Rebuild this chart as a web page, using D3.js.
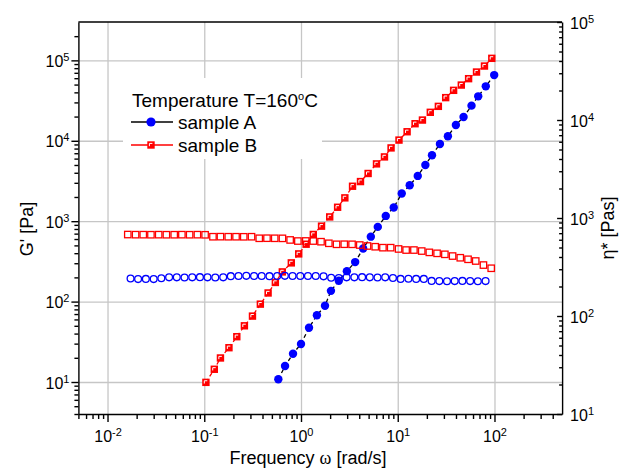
<!DOCTYPE html>
<html>
<head>
<meta charset="utf-8">
<script src="https://cdn.jsdelivr.net/npm/d3@7"></script>
<style>
    body { margin: 0; background: #fff; }
    svg { display: block; font-family: "Liberation Sans", Arial, sans-serif; }
</style>
</head>
<body>
<svg class="chart" width="631" height="469"></svg>
<script>
// storage modulus G' (filled symbols, left axis) and complex viscosity (open symbols, right axis)
var freqA = [0.583, 0.684, 0.827, 1.0, 1.21, 1.46, 1.77, 2.04, 2.46, 2.98, 3.63, 4.39, 5.27, 6.22, 7.52,
    9.09, 11.0, 13.3, 16.1, 19.3, 22.6, 27.3, 33.0, 39.9, 47.9, 57.9, 67.9, 81.3, 99.3];
var gA = [10.8, 15.8, 22.5, 29.7, 47.3, 67.5, 88.8, 136, 182, 239, 310, 458, 642, 849, 1163,
    1480, 2207, 2800, 3655, 5003, 6600, 9120, 11370, 15710, 19760, 27360, 35700, 47550, 65600];

var freqB = [0.104, 0.127, 0.147, 0.180, 0.217, 0.260, 0.315, 0.380, 0.457, 0.543, 0.641, 0.794, 0.947,
    1.13, 1.34, 1.63, 1.98, 2.39, 2.84, 3.41, 4.12, 4.94, 6.03, 7.29, 8.53, 10.3, 12.5, 15.1, 18.0,
    21.7, 26.3, 31.3, 37.8, 45.4, 54.0, 65.2, 78.8, 93.8];
var gB = [9.9, 14.4, 19.9, 26.7, 36.6, 50, 66, 93, 128, 173, 234, 303, 392, 517, 684, 867, 1130,
    1490, 1950, 2720, 3110, 3920, 5160, 6300, 8150, 10200, 12950, 16300, 18100, 22600, 26800,
    34400, 42400, 49300, 59200, 71600, 85000, 106000];

var freqEtaA = [0.0173, 0.0207, 0.0249, 0.0300, 0.0360, 0.0433, 0.0520, 0.0625, 0.0751, 0.0902, 0.108,
    0.130, 0.157, 0.188, 0.226, 0.272, 0.327, 0.392, 0.472, 0.567, 0.681, 0.818, 0.983, 1.18, 1.42,
    1.71, 2.05, 2.46, 2.96, 3.56, 4.28, 5.14, 6.18, 7.42, 8.92, 10.7, 12.9, 15.5, 18.6, 22.4, 26.9,
    32.3, 38.8, 46.6, 56.0, 67.3, 80.9];
var etaA = [241, 238, 239, 238, 243, 248, 248, 247, 248, 249, 248, 247, 248, 255, 256, 257, 256, 256,
    255, 256, 257, 256, 256, 256, 256, 254, 246, 244, 248, 248, 249, 248, 247, 248, 244, 239, 240,
    239, 239, 228, 227, 226, 227, 228, 227, 226, 227];

var freqEtaB = [0.0162, 0.0195, 0.0234, 0.0281, 0.0338, 0.0406, 0.0489, 0.0587, 0.0706, 0.0849, 0.102,
    0.123, 0.147, 0.177, 0.213, 0.256, 0.308, 0.370, 0.445, 0.535, 0.643, 0.772, 0.928, 1.12, 1.34,
    1.61, 1.94, 2.33, 2.80, 3.37, 4.05, 4.87, 5.85, 7.03, 8.45, 10.2, 12.2, 14.7, 17.7, 21.2, 25.5,
    30.7, 36.9, 44.3, 53.3, 64.0, 76.9, 92.5];
var etaB = [678, 676, 676, 675, 676, 675, 675, 676, 675, 676, 674, 644, 645, 644, 644, 643, 644, 621,
    622, 621, 620, 597, 582, 583, 582, 573, 552, 539, 540, 539, 530, 518, 509, 498, 498, 483, 471,
    471, 460, 446, 436, 426, 409, 393, 379, 364, 331, 307];

var xTicks = [0.01, 0.1, 1, 10, 100];
var leftTicks = [10, 100, 1000, 10000, 100000];
var rightTicks = [10, 100, 1000, 10000, 100000];
var legendTitle = 'Temperature T=160';
var legendLabels = ['sample A', 'sample B'];

(function () {
    var left = 78.4, right = 562.1, top = 22, bottom = 414;
    var font = '"Liberation Sans", Arial, sans-serif';
    var svg = d3.select('.chart');
    var noLabel = function () { return ''; };

    var x = d3.scaleLog().domain([0.005, 500]).range([left, right]);
    var yL = d3.scaleLog().domain([4, 3e5]).range([bottom, top]);
    var yR = d3.scaleLog().domain([10, 1e5]).range([bottom, top]);

    // 2..9 times each power of ten, inside the domain
    function minors(scale) {
        var d = scale.domain(), out = [];
        for (var e = Math.floor(Math.log10(d[0])); e <= Math.ceil(Math.log10(d[1])); e++)
            for (var k = 2; k <= 9; k++) {
                var v = k * Math.pow(10, e);
                if (v >= d[0] && v <= d[1] * 0.999) out.push(v);
            }
        return out;
    }

    // grid lines
    var grid = svg.append('g').attr('class', 'grid');
    grid.append('g').attr('transform', 'translate(0,' + bottom + ')')
        .call(d3.axisBottom(x).tickValues(xTicks).tickSize(-(bottom - top)).tickFormat(noLabel));
    grid.append('g').attr('transform', 'translate(' + left + ',0)')
        .call(d3.axisLeft(yL).tickValues(leftTicks).tickSize(-(right - left)).tickFormat(noLabel));
    grid.selectAll('.domain, text').remove();
    grid.selectAll('line').attr('stroke', '#c6c6c6').attr('stroke-width', 1.3);

    // legend background hides the grid
    svg.append('rect').attr('x', 123).attr('y', 78).attr('width', 199).attr('height', 81).attr('fill', '#fff');

    // dashed lines through the G' points
    function drawLine(fx, fy, color) {
        svg.append('path')
            .datum(d3.zip(fx, fy))
            .attr('fill', 'none')
            .attr('stroke', color)
            .attr('stroke-width', 1.3)
            .attr('stroke-dasharray', '4,3')
            .attr('d', d3.line().x(function (d) { return x(d[0]); }).y(function (d) { return yL(d[1]); }));
    }
    drawLine(freqB, gB, '#ff0000');
    drawLine(freqA, gA, '#000');

    // filled squares with the small white corner seen in the picture
    function filledSquares(g, data, px, py) {
        var s = g.selectAll(null).data(data).enter().append('g')
            .attr('transform', function (d) { return 'translate(' + px(d) + ',' + py(d) + ')'; });
        s.append('rect').attr('x', -3.7).attr('y', -3.7).attr('width', 7.4).attr('height', 7.4).attr('fill', '#ff0000');
        s.append('path').attr('d', 'M-1.6,1.2V-1.6H1.4').attr('fill', 'none').attr('stroke', '#fff').attr('stroke-width', 1);
    }
    filledSquares(svg.append('g'), d3.zip(freqB, gB),
        function (d) { return x(d[0]); }, function (d) { return yL(d[1]); });

    svg.append('g').selectAll('circle').data(d3.zip(freqA, gA)).enter().append('circle')
        .attr('cx', function (d) { return x(d[0]); })
        .attr('cy', function (d) { return yL(d[1]); })
        .attr('r', 4.2)
        .attr('fill', '#0000ff');

    // open symbols: complex viscosity
    svg.append('g').selectAll('rect').data(d3.zip(freqEtaB, etaB)).enter().append('rect')
        .attr('x', function (d) { return x(d[0]) - 3.2; })
        .attr('y', function (d) { return yR(d[1]) - 3.2; })
        .attr('width', 6.4).attr('height', 6.4)
        .attr('fill', 'none').attr('stroke', '#ff0000').attr('stroke-width', 1.3);

    svg.append('g').selectAll('circle').data(d3.zip(freqEtaA, etaA)).enter().append('circle')
        .attr('cx', function (d) { return x(d[0]); })
        .attr('cy', function (d) { return yR(d[1]); })
        .attr('r', 3.4)
        .attr('fill', 'none').attr('stroke', '#0000ff').attr('stroke-width', 1.3);

    // axes: a minor (unlabelled) and a major (10^n labels) layer each
    function power(sel) {
        sel.each(function (d) {
            var t = d3.select(this).text(null);
            t.append('tspan').text('10');
            t.append('tspan').attr('dy', -6).style('font-size', '11px').text(Math.round(Math.log10(d)));
        });
    }
    function makeAxis(pos, minorAxis, majorAxis) {
        var g = svg.append('g').attr('transform', pos);
        var mi = g.append('g').call(minorAxis.tickFormat(noLabel));
        mi.selectAll('.domain, text').remove();
        var ma = g.append('g').call(majorAxis.tickSizeOuter(0));
        g.selectAll('g').attr('font-family', null).attr('font-size', null);
        g.attr('font-family', font).attr('font-size', 16);
        g.selectAll('line, .domain').attr('stroke', '#000').attr('stroke-width', 1.4);
        ma.selectAll('text').attr('fill', '#000').call(power);
        return ma;
    }

    var ax = makeAxis('translate(0,' + bottom + ')',
        d3.axisBottom(x).tickValues(minors(x)).tickSize(5),
        d3.axisBottom(x).tickValues(xTicks).tickSize(8));
    ax.selectAll('text').attr('y', 28).attr('dy', 0);

    var al = makeAxis('translate(' + left + ',0)',
        d3.axisLeft(yL).tickValues(minors(yL)).tickSize(4),
        d3.axisLeft(yL).tickValues(leftTicks).tickSize(7).tickPadding(2));
    al.selectAll('text').attr('dy', 6);

    var ar = makeAxis('translate(' + right + ',0)',
        d3.axisRight(yR).tickValues(minors(yR)).tickSize(-3),
        d3.axisRight(yR).tickValues(rightTicks).tickSize(-5).tickPadding(8));
    ar.selectAll('text').attr('dy', 6);

    // top frame line
    svg.append('line').attr('x1', left).attr('x2', right).attr('y1', top).attr('y2', top)
        .attr('stroke', '#000').attr('stroke-width', 1.4);

    // axis titles
    var xt = svg.append('text').attr('x', 308).attr('y', 464).attr('text-anchor', 'middle')
        .style('font-size', '18px');
    xt.append('tspan').text('Frequency ');
    xt.append('tspan').style('font-family', '"Liberation Serif", serif').text('ω');
    xt.append('tspan').text(' [rad/s]');

    svg.append('text').attr('transform', 'translate(33,229) rotate(-90)').attr('text-anchor', 'middle')
        .style('font-size', '18px').text("G' [Pa]");
    svg.append('text').attr('transform', 'translate(614,228) rotate(-90)').attr('text-anchor', 'middle')
        .style('font-size', '18px').text('η* [Pas]');

    // legend
    var lg = svg.append('g').style('font-size', '19px');
    var lt = lg.append('text').attr('x', 132).attr('y', 107);
    lt.append('tspan').text(legendTitle);
    lt.append('tspan').attr('dy', -7).style('font-size', '11px').text('o');
    lt.append('tspan').attr('dy', 7).text('C');

    var colors = ['#000', '#ff0000'];
    legendLabels.forEach(function (label, i) {
        var yy = 122 + i * 23;
        lg.append('line').attr('x1', 131).attr('x2', 173).attr('y1', yy).attr('y2', yy)
            .attr('stroke', colors[i]).attr('stroke-width', 1.3);
        lg.append('text').attr('x', 178).attr('y', yy + 6.5).text(label);
    });
    lg.append('circle').attr('cx', 151).attr('cy', 122).attr('r', 4.6).attr('fill', '#0000ff');
    filledSquares(lg, [0], function () { return 151; }, function () { return 145; });
}());
</script>
</body>
</html>
